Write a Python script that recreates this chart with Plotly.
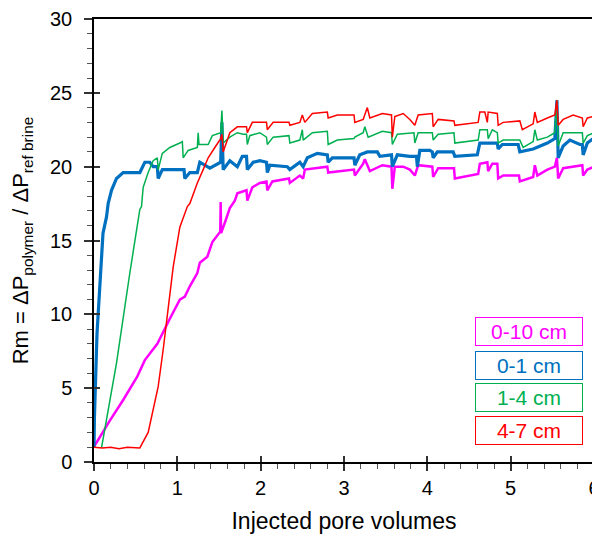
import plotly.graph_objects as go

# ---------------- data ----------------
blue_x = [0, 0.005, 0.036, 0.072, 0.108, 0.15, 0.17, 0.21, 0.27, 0.35, 0.55, 0.61, 0.67, 0.71, 0.76, 0.77,
          0.82, 1.03, 1.08, 1.09, 1.15, 1.24, 1.27, 1.39, 1.52, 1.535, 1.55, 1.63, 1.72, 1.78, 1.83, 1.84,
          1.91, 1.99, 2.07, 2.08, 2.11, 2.32, 2.35, 2.47, 2.51, 2.56, 2.68, 2.80, 2.81, 2.86, 3.07, 3.12,
          3.13, 3.19, 3.28, 3.40, 3.43, 3.53, 3.57, 3.58, 3.64, 3.79, 3.87, 3.88, 3.91, 4.03, 4.06, 4.07,
          4.12, 4.31, 4.33, 4.60, 4.63, 4.84, 4.85, 4.90, 5.09, 5.11, 5.27, 5.44, 5.53, 5.555, 5.57, 5.63,
          5.71, 5.83, 5.86, 5.87, 5.92, 5.99, 6.0]
blue_y = [1.0, 3.0, 8.7, 12.1, 15.5, 16.6, 17.5, 18.4, 19.2, 19.6, 19.6, 20.3, 20.3, 20.0, 20.0, 19.2,
          19.8, 19.8, 19.8, 19.2, 19.6, 19.6, 20.3, 19.9, 20.3, 23.0, 19.8, 20.4, 20.0, 20.7, 20.7, 19.8,
          20.3, 20.4, 20.3, 19.6, 20.1, 20.0, 19.8, 20.3, 20.0, 20.6, 20.9, 20.8, 20.3, 20.6, 20.6, 20.6,
          20.1, 20.8, 21.0, 21.0, 20.7, 20.8, 20.8, 20.0, 20.8, 20.7, 20.7, 20.0, 21.1, 21.1, 21.0, 20.6,
          21.0, 21.0, 20.7, 20.8, 21.6, 21.6, 21.2, 21.5, 21.5, 21.0, 21.2, 21.6, 21.9, 24.5, 20.6, 21.4,
          21.8, 21.5, 21.5, 20.8, 21.6, 21.9, 21.7]

green_x = [0.09, 0.27, 0.43, 0.55, 0.57, 0.59, 0.65, 0.71, 0.76, 0.77, 0.82, 0.91, 1.03, 1.06, 1.07, 1.13,
           1.24, 1.25, 1.26, 1.37, 1.42, 1.52, 1.535, 1.55, 1.63, 1.72, 1.79, 1.83, 1.84, 1.87, 1.99, 2.07,
           2.08, 2.15, 2.34, 2.35, 2.47, 2.50, 2.51, 2.62, 2.80, 2.81, 2.92, 3.12, 3.13, 3.23, 3.25, 3.29,
           3.46, 3.57, 3.58, 3.64, 3.84, 3.85, 3.89, 4.06, 4.07, 4.13, 4.32, 4.33, 4.61, 4.63, 4.72, 4.73,
           4.78, 4.84, 4.85, 4.91, 5.11, 5.15, 5.27, 5.29, 5.32, 5.44, 5.53, 5.555, 5.57, 5.63, 5.86, 5.87,
           5.92, 5.99, 6.0]
green_y = [0.95, 6.7, 12.8, 17.1, 17.3, 18.6, 19.6, 20.4, 20.6, 19.8, 20.9, 21.3, 21.6, 21.7, 20.6, 21.1,
           21.3, 22.3, 21.5, 21.5, 22.1, 22.3, 23.8, 21.6, 22.0, 22.3, 22.2, 22.2, 21.5, 22.1, 22.3, 22.0,
           21.5, 22.0, 22.1, 21.6, 21.8, 22.5, 21.8, 22.3, 22.4, 21.5, 21.8, 21.9, 22.0, 22.3, 22.7, 22.0,
           22.4, 22.3, 21.5, 22.2, 22.3, 21.6, 22.3, 22.3, 21.8, 22.2, 22.3, 21.6, 21.8, 22.5, 22.5, 21.9,
           22.5, 22.3, 21.6, 21.8, 21.8, 21.3, 21.7, 22.5, 21.8, 22.0, 22.3, 24.5, 21.4, 22.3, 22.3, 21.6,
           22.1, 22.3, 22.3]

red_x = [0, 0.1, 0.2, 0.3, 0.4, 0.55, 0.65, 0.77, 0.83, 0.89, 0.95, 1.03, 1.12, 1.15, 1.24, 1.31, 1.37,
         1.45, 1.52, 1.535, 1.55, 1.63, 1.72, 1.83, 1.84, 1.90, 2.07, 2.08, 2.15, 2.34, 2.35, 2.47, 2.50,
         2.53, 2.62, 2.80, 2.81, 2.92, 3.12, 3.13, 3.23, 3.28, 3.31, 3.46, 3.57, 3.58, 3.61, 3.71, 3.79,
         3.85, 3.89, 4.06, 4.07, 4.13, 4.32, 4.33, 4.61, 4.63, 4.69, 4.72, 4.73, 4.84, 4.85, 4.91, 5.11,
         5.14, 5.27, 5.29, 5.32, 5.44, 5.53, 5.555, 5.57, 5.63, 5.75, 5.86, 5.87, 5.92, 5.99, 6.0]
red_y = [1.0, 0.95, 1.0, 0.9, 1.0, 0.95, 2.0, 5.1, 7.6, 10.3, 13.2, 15.9, 17.3, 17.5, 18.9, 19.8, 20.6,
         21.3, 21.9, 22.2, 21.0, 22.3, 22.7, 22.7, 22.3, 23.0, 23.0, 22.5, 23.0, 23.0, 22.8, 23.0, 23.5,
         23.0, 23.6, 23.7, 23.3, 23.5, 23.5, 23.0, 23.2, 24.0, 23.3, 23.6, 23.5, 22.0, 23.4, 23.6, 23.2,
         22.8, 23.5, 23.6, 22.7, 23.2, 23.1, 22.8, 23.0, 23.7, 23.7, 23.0, 23.7, 23.6, 22.8, 23.0, 23.1,
         22.5, 22.9, 23.7, 23.0, 23.3, 23.5, 24.5, 22.8, 23.2, 23.5, 23.3, 22.7, 23.3, 23.4, 23.3]

mag_x = [0, 0.012, 0.19, 0.35, 0.52, 0.61, 0.76, 0.82, 0.91, 1.03, 1.09, 1.15, 1.24, 1.27, 1.36, 1.42,
         1.515, 1.52, 1.525, 1.57, 1.63, 1.69, 1.72, 1.83, 1.84, 1.90, 1.99, 2.07, 2.08, 2.14, 2.34, 2.35,
         2.47, 2.51, 2.53, 2.80, 2.81, 3.12, 3.13, 3.23, 3.25, 3.31, 3.46, 3.57, 3.58, 3.61, 3.71, 3.79,
         3.85, 3.89, 4.06, 4.07, 4.13, 4.32, 4.33, 4.61, 4.63, 4.72, 4.73, 4.78, 4.84, 4.85, 4.91, 5.10,
         5.11, 5.27, 5.29, 5.32, 5.44, 5.53, 5.555, 5.57, 5.63, 5.86, 5.87, 5.92, 5.99, 6.0]
mag_y = [1.0, 1.15, 2.8, 4.2, 5.8, 6.9, 8.0, 8.7, 9.7, 11.0, 11.2, 11.9, 12.8, 13.5, 13.9, 14.9,
         15.6, 17.6, 15.5, 16.2, 17.2, 17.7, 18.2, 18.4, 17.7, 18.6, 18.9, 19.0, 18.4, 19.0, 19.2, 18.9,
         19.4, 19.2, 19.8, 20.0, 19.6, 19.8, 19.4, 20.2, 20.5, 19.7, 20.1, 20.0, 18.5, 20.0, 20.0, 19.8,
         19.4, 20.1, 20.0, 19.3, 19.9, 19.9, 19.2, 19.5, 20.2, 20.3, 19.7, 20.2, 20.2, 19.2, 19.4, 19.4,
         19.0, 19.3, 20.1, 19.4, 19.8, 20.0, 20.6, 19.2, 19.9, 20.1, 19.4, 19.8, 20.0, 20.0]

legend_labels = ["0-10 cm", "0-1 cm", "1-4 cm", "4-7 cm"]
x_ticks = [0, 1, 2, 3, 4, 5, 6]
y_ticks = [0, 5, 10, 15, 20, 25, 30]

# ---------------- styles ----------------
C_MAG, C_BLUE, C_GREEN, C_RED = "#FF00FF", "#0070C0", "#00B050", "#FF0000"
FONT = "Liberation Sans, Arial, sans-serif"

fig = go.Figure()
fig.add_trace(go.Scatter(x=mag_x, y=mag_y, mode="lines", line=dict(color=C_MAG, width=2.5), showlegend=False))
fig.add_trace(go.Scatter(x=blue_x, y=blue_y, mode="lines", line=dict(color=C_BLUE, width=3.2), showlegend=False))
fig.add_trace(go.Scatter(x=green_x, y=green_y, mode="lines", line=dict(color=C_GREEN, width=1.5), showlegend=False))
fig.add_trace(go.Scatter(x=red_x, y=red_y, mode="lines", line=dict(color=C_RED, width=1.5), showlegend=False))
# dummy trace to activate overlay axes (inside part of major ticks)
fig.add_trace(go.Scatter(x=[None], y=[None], xaxis="x2", yaxis="y2", showlegend=False, hoverinfo="skip"))

axis_common = dict(showgrid=False, zeroline=False, automargin=False)

# page body adds an 8px offset, so the figure is 592x528
fig.update_layout(
    width=592, height=528,
    margin=dict(l=86, r=6, t=11, b=74),
    plot_bgcolor="white", paper_bgcolor="white",
    font=dict(family=FONT, color="black"),
    xaxis=dict(range=[0, 6], tickvals=x_ticks, ticktext=[str(v) for v in x_ticks],
               showline=True, linecolor="black", linewidth=1.5, mirror=True,
               ticks="outside", ticklen=7, tickwidth=1.5, tickcolor="#333",
               minor=dict(ticks="outside", dtick=0.2, ticklen=5, tickwidth=1, tickcolor="#555"),
               tickfont=dict(size=20),
               title=dict(text="Injected pore volumes", font=dict(size=23), standoff=15),
               **axis_common),
    yaxis=dict(range=[0, 30], tickvals=y_ticks, ticktext=[str(v) for v in y_ticks],
               showline=True, linecolor="black", linewidth=1.5, mirror=True,
               ticks="outside", ticklen=8, tickwidth=1.5, tickcolor="#333",
               minor=dict(ticks="outside", dtick=1, ticklen=5, tickwidth=1, tickcolor="#555"),
               tickfont=dict(size=20), ticklabelstandoff=8,
               title=dict(text="Rm = ΔP<sub>polymer</sub> / ΔP<sub>ref brine</sub>",
                          font=dict(size=22), standoff=20),
               **axis_common),
    xaxis2=dict(range=[0, 6], overlaying="x", anchor="y", side="bottom", tickvals=x_ticks,
                ticks="inside", ticklen=6, tickwidth=1.5, tickcolor="#333",
                showticklabels=False, showline=False, **axis_common),
    yaxis2=dict(range=[0, 30], overlaying="y", anchor="x", side="left", tickvals=y_ticks,
                ticks="inside", ticklen=6, tickwidth=1.5, tickcolor="#333",
                showticklabels=False, showline=False, **axis_common),
)

# legend boxes drawn as bordered annotations
legend_colors = [C_MAG, C_BLUE, C_GREEN, C_RED]
legend_ypos = [0.2935, 0.218, 0.1445, 0.072]
for lab, col, yp in zip(legend_labels, legend_colors, legend_ypos):
    fig.add_annotation(x=0.869, y=yp, xref="paper", yref="paper", text=lab, showarrow=False,
                       xanchor="center", yanchor="middle", font=dict(size=21, color=col),
                       bordercolor=col, borderwidth=1, borderpad=1, width=104, height=25,
                       bgcolor="white")

fig.write_html("out.html")
